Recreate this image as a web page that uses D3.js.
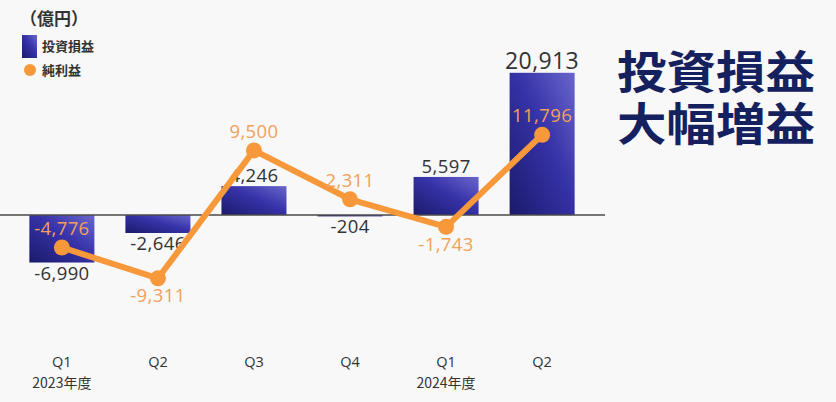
<!DOCTYPE html>
<html><head><meta charset="utf-8">
<script src="https://cdn.jsdelivr.net/npm/d3@7"></script>
<style>body{margin:0;background:#f8f8f8;}svg{display:block;}</style>
</head><body>
<svg id="c" width="836" height="402"></svg>
<script>
const quarters = ["Q1","Q2","Q3","Q4","Q1","Q2"];
const years = ["2023年度","","","","2024年度",""];
const investment = [-6990,-2646,4246,-204,5597,20913];
const netIncome = [-4776,-9311,9500,2311,-1743,11796];
const netLabelPos = ["above","below","above","above","below","above"];

const svg = d3.select("#c");
const font = "'Noto Sans CJK JP','Noto Sans',sans-serif";
const numFont = "'Open Sans','Noto Sans',sans-serif";
svg.append("rect").attr("width",836).attr("height",402).attr("fill","#f8f8f8");

const defs = svg.append("defs");
const g = defs.append("linearGradient").attr("id","bg").attr("x1","0").attr("y1","1").attr("x2","1").attr("y2","0");
g.append("stop").attr("offset","0%").attr("stop-color","#1b1a6a");
g.append("stop").attr("offset","55%").attr("stop-color","#3632a8");
g.append("stop").attr("offset","100%").attr("stop-color","#6a66cc");

const x = d3.scaleBand().domain(d3.range(6)).range([14,590]).paddingInner(0.323).paddingOuter(0.16);
const y = d3.scaleLinear().domain([-10000,21000]).range([283,72.2]);

// bars
svg.selectAll("rect.bar").data(investment).join("rect")
  .attr("x",(d,i)=>x(i)).attr("width",x.bandwidth())
  .attr("y",d=>y(Math.max(0,d))).attr("height",d=>Math.abs(y(d)-y(0)))
  .attr("fill","url(#bg)");

// zero line
svg.append("line").attr("x1",0).attr("x2",605).attr("y1",y(0)).attr("y2",y(0))
  .attr("stroke","#4a4a4a").attr("stroke-width",1.5);

const fmt = d3.format(",");
const cx = i=>x(i)+x.bandwidth()/2;
// bar labels
svg.selectAll("text.bl").data(investment).join("text")
  .attr("x",(d,i)=>cx(i))
  .attr("y",d=> d>=0 ? y(d)-4 : y(d)+17)
  .attr("text-anchor","middle").attr("font-family",numFont)
  .attr("font-size",(d,i)=> i===5 ? 23 : 18.5).attr("letter-spacing",0.4)
  .attr("fill","#333").text(d=>fmt(d).replace("−","-"));

// line
const line = d3.line().x((d,i)=>cx(i)).y(d=>y(d));
svg.append("path").datum(netIncome).attr("d",line).attr("fill","none")
  .attr("stroke","#f7983a").attr("stroke-width",6).attr("stroke-linejoin","round");
svg.selectAll("circle.pt").data(netIncome).join("circle")
  .attr("cx",(d,i)=>cx(i)).attr("cy",d=>y(d)).attr("r",8).attr("fill","#f7983a");
svg.selectAll("text.nl").data(netIncome).join("text")
  .attr("x",(d,i)=>cx(i))
  .attr("y",(d,i)=> netLabelPos[i]==="above" ? y(d)-12.5 : y(d)+24)
  .attr("text-anchor","middle").attr("font-family",numFont).attr("font-size",18.5).attr("letter-spacing",0.4)
  .attr("fill","#f2a05a").text(d=>fmt(d).replace("−","-"));

// x labels
svg.selectAll("text.q").data(quarters).join("text")
  .attr("x",(d,i)=>cx(i)).attr("y",367).attr("text-anchor","middle")
  .attr("font-family",numFont).attr("font-size",14.5).attr("fill","#333").text(d=>d);
svg.selectAll("text.yr").data(years).join("text")
  .attr("x",(d,i)=>cx(i)).attr("y",388).attr("text-anchor","middle")
  .attr("font-family",font).attr("font-size",14).attr("fill","#333").text(d=>d);

// legend
svg.append("text").attr("x",20).attr("y",25).attr("font-family",font).attr("font-size",17)
  .attr("font-weight","bold").attr("fill","#333").text("（億円）");
svg.append("rect").attr("x",22).attr("y",35).attr("width",15).attr("height",23).attr("fill","url(#bg)");
svg.append("text").attr("x",42).attr("y",51).attr("font-family",font).attr("font-size",13)
  .attr("font-weight","bold").attr("fill","#333").text("投資損益");
svg.append("circle").attr("cx",30).attr("cy",70).attr("r",6).attr("fill","#f7983a");
svg.append("text").attr("x",42).attr("y",75).attr("font-family",font).attr("font-size",13)
  .attr("font-weight","bold").attr("fill","#333").text("純利益");

// title
const title = svg.append("text").attr("font-family",font)
  .attr("font-size",45).attr("font-weight","bold").attr("fill","#15215f");
title.append("tspan").attr("x",617).attr("y",89).attr("textLength",198).attr("lengthAdjust","spacingAndGlyphs").text("投資損益");
title.append("tspan").attr("x",617).attr("y",141).attr("textLength",198).attr("lengthAdjust","spacingAndGlyphs").text("大幅増益");
</script>
</body></html>
